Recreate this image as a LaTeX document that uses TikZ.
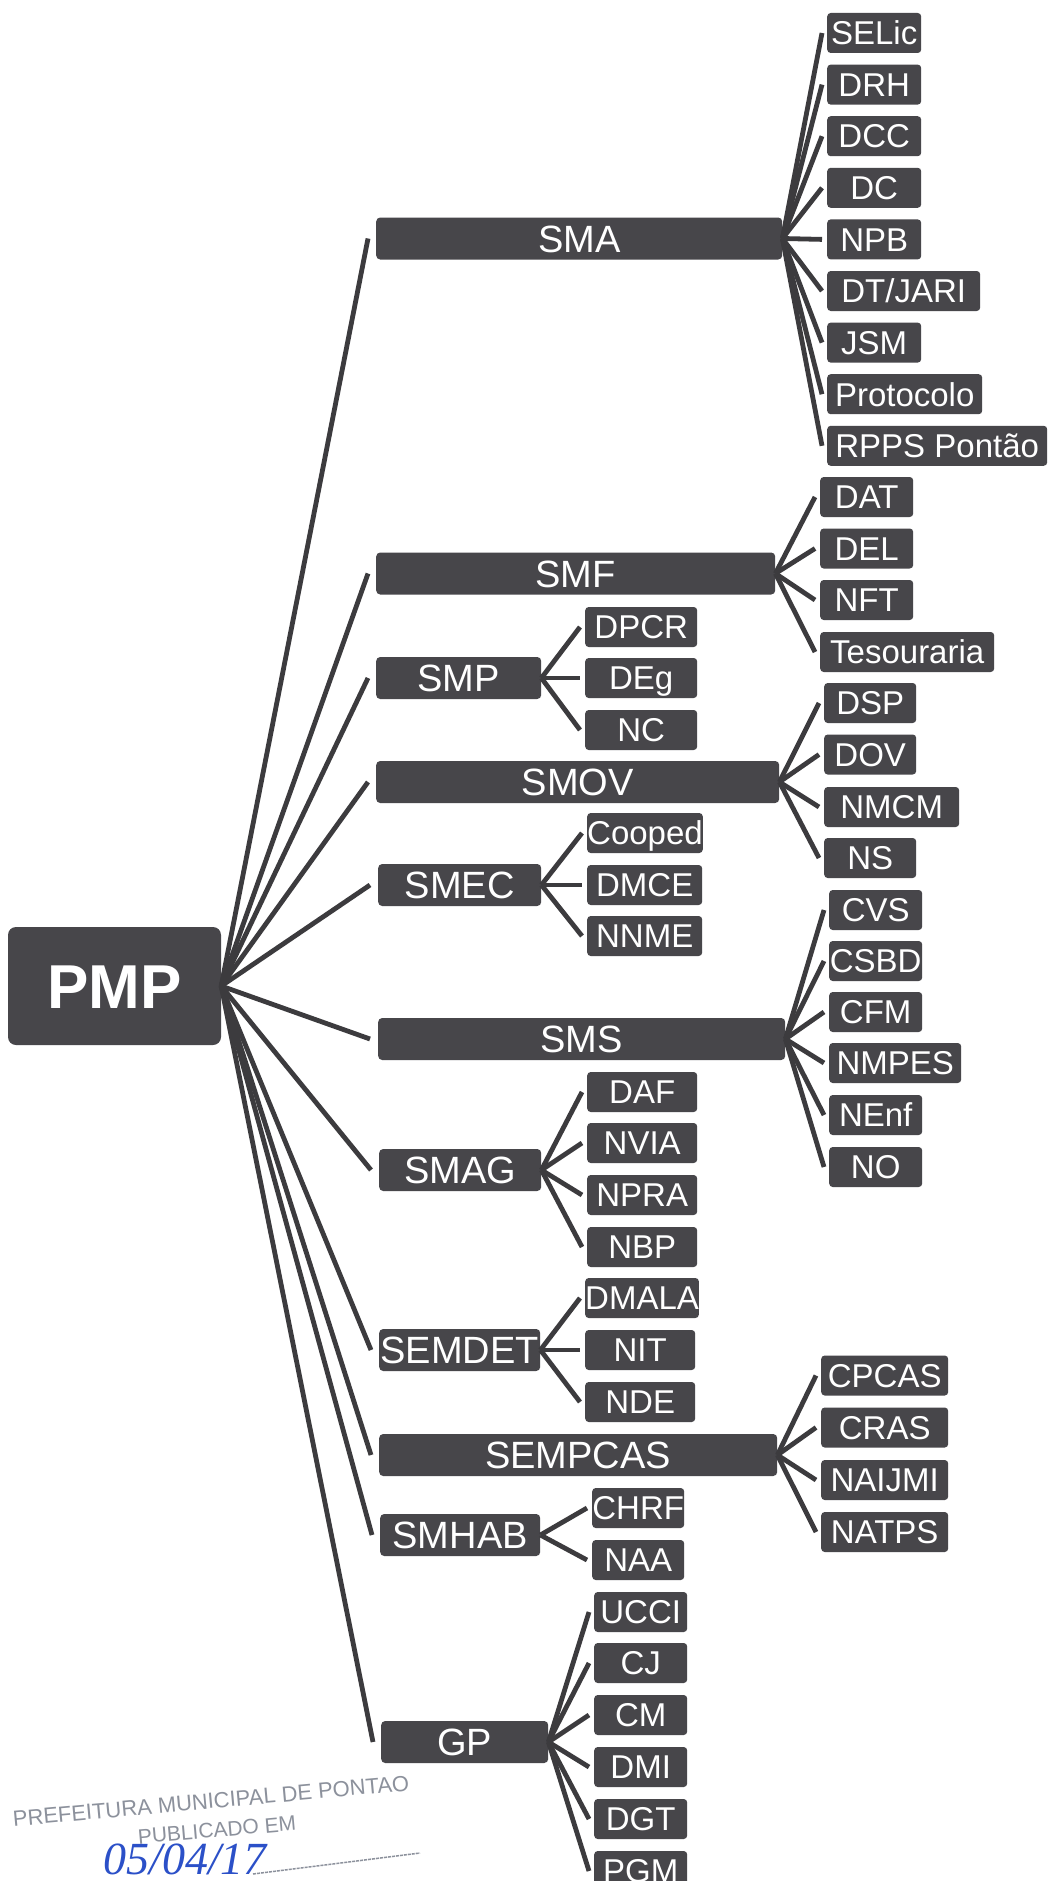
\documentclass[tikz,border=0pt]{standalone}
\usepackage{fontspec}
\setmainfont{Liberation Sans}
\newfontfamily\handfont{Liberation Serif}
\usetikzlibrary{calc}
\definecolor{boxc}{HTML}{47464A}
\definecolor{linec}{HTML}{3C3B3E}
\definecolor{stampc}{HTML}{8C919C}
\definecolor{inkc}{HTML}{2B50C8}
\tikzset{
  sec/.style={fill=boxc, rounded corners=4pt, text=white, font=\fontsize{38}{40}\selectfont,
    minimum height=42pt, inner sep=0pt, anchor=west, text height=27pt, text depth=0pt},
  sub/.style={fill=boxc, rounded corners=3.5pt, text=white, font=\fontsize{33}{36}\selectfont,
    minimum height=40pt, inner sep=0pt, anchor=west, text height=23.6pt, text depth=0pt},
  rootbox/.style={fill=boxc, rounded corners=8pt, text=white, font=\fontsize{62}{64}\selectfont\bfseries,
    minimum width=213pt, minimum height=118pt, inner sep=0pt, text height=44pt, text depth=0pt},
  conn/.style={draw=linec, line width=4.8pt},
  stamptext/.style={text=stampc, inner sep=0pt},
}
\begin{document}
\begin{tikzpicture}[x=1pt,y=-1pt]
\fill[white] (0,0) rectangle (1048,1881);
\useasboundingbox (0,0) rectangle (1048,1881);

% root
\node[rootbox] (PMP) at (114.5,986) {PMP};

% second level
\node[sec, minimum width=406pt] (SMA) at (376,238.5) {SMA};
\node[sec, minimum width=399pt] (SMF) at (376,573.5) {SMF};
\node[sec, minimum width=165pt] (SMP) at (376,678) {SMP};
\node[sec, minimum width=403pt] (SMOV) at (376,782) {SMOV};
\node[sec, minimum width=163pt] (SMEC) at (378,885) {SMEC};
\node[sec, minimum width=407pt] (SMS) at (378,1039) {SMS};
\node[sec, minimum width=162pt] (SMAG) at (379,1170) {SMAG};
\node[sec, minimum width=161pt] (SEMDET) at (379,1350) {SEMDET};
\node[sec, minimum width=398pt] (SEMPCAS) at (379,1455) {SEMPCAS};
\node[sec, minimum width=160pt] (SMHAB) at (380,1535) {SMHAB};
\node[sec, minimum width=167pt] (GP) at (381,1742) {GP};

% SMA children
\node[sub, minimum width=94pt] (SELic) at (827,33) {SELic};
\node[sub, minimum width=94pt] (DRH) at (827,84.6) {DRH};
\node[sub, minimum width=94pt] (DCC) at (827,136.2) {DCC};
\node[sub, minimum width=94pt] (DC) at (827,187.8) {DC};
\node[sub, minimum width=94pt] (NPB) at (827,239.4) {NPB};
\node[sub, minimum width=153pt] (DTJARI) at (827,291) {DT/JARI};
\node[sub, minimum width=94pt] (JSM) at (827,342.6) {JSM};
\node[sub, minimum width=155pt] (Protocolo) at (827,394.2) {Protocolo};
\node[sub, minimum width=220pt] (RPPS) at (827,445.8) {RPPS Pontão};

% SMF children
\node[sub, minimum width=93pt] (DAT) at (820,497) {DAT};
\node[sub, minimum width=93pt] (DEL) at (820,548.5) {DEL};
\node[sub, minimum width=93pt] (NFT) at (820,600) {NFT};
\node[sub, minimum width=174pt] (Tesouraria) at (820,652) {Tesouraria};

% SMP children
\node[sub, minimum width=112pt] (DPCR) at (585,627) {DPCR};
\node[sub, minimum width=112pt] (DEg) at (585,678) {DEg};
\node[sub, minimum width=112pt] (NC) at (585,730) {NC};

% SMOV children
\node[sub, minimum width=92pt] (DSP) at (824,703) {DSP};
\node[sub, minimum width=92pt] (DOV) at (824,754.5) {DOV};
\node[sub, minimum width=135pt] (NMCM) at (824,807) {NMCM};
\node[sub, minimum width=92pt] (NS) at (824,858) {NS};

% SMEC children
\node[sub, minimum width=115pt] (Cooped) at (587,833) {Cooped};
\node[sub, minimum width=115pt] (DMCE) at (587,885) {DMCE};
\node[sub, minimum width=115pt] (NNME) at (587,936) {NNME};

% SMS children
\node[sub, minimum width=93pt] (CVS) at (829,910) {CVS};
\node[sub, minimum width=93pt] (CSBD) at (829,961) {CSBD};
\node[sub, minimum width=93pt] (CFM) at (829,1012) {CFM};
\node[sub, minimum width=132pt] (NMPES) at (829,1063) {NMPES};
\node[sub, minimum width=93pt] (NEnf) at (829,1115) {NEnf};
\node[sub, minimum width=93pt] (NO) at (829,1167) {NO};

% SMAG children
\node[sub, minimum width=110pt] (DAF) at (587,1092) {DAF};
\node[sub, minimum width=110pt] (NVIA) at (587,1143) {NVIA};
\node[sub, minimum width=110pt] (NPRA) at (587,1195) {NPRA};
\node[sub, minimum width=110pt] (NBP) at (587,1247) {NBP};

% SEMDET children
\node[sub, minimum width=110pt] (DMALA) at (585,1298) {DMALA};
\node[sub, minimum width=110pt] (NIT) at (585,1350) {NIT};
\node[sub, minimum width=110pt] (NDE) at (585,1402) {NDE};

% SEMPCAS children
\node[sub, minimum width=127pt] (CPCAS) at (821,1375.5) {CPCAS};
\node[sub, minimum width=127pt] (CRAS) at (821,1427.5) {CRAS};
\node[sub, minimum width=127pt] (NAIJMI) at (821,1480) {NAIJMI};
\node[sub, minimum width=127pt] (NATPS) at (821,1532) {NATPS};

% SMHAB children
\node[sub, minimum width=92pt] (CHRF) at (592,1508) {CHRF};
\node[sub, minimum width=92pt] (NAA) at (592,1560) {NAA};

% GP children
\node[sub, minimum width=93pt] (UCCI) at (594,1612) {UCCI};
\node[sub, minimum width=93pt] (CJ) at (594,1663) {CJ};
\node[sub, minimum width=93pt] (CM) at (594,1715) {CM};
\node[sub, minimum width=93pt] (DMI) at (594,1767) {DMI};
\node[sub, minimum width=93pt] (DGT) at (594,1819) {DGT};
\node[sub, minimum width=93pt] (PGM) at (594,1871) {PGM};

% connectors root -> second level
\foreach \s in {SMA,SMF,SMP,SMOV,SMEC,SMS,SMAG,SEMDET,SEMPCAS,SMHAB,GP}
  \draw[conn] (PMP.east) -- ($(\s.west)+(-8,0)$);

% connectors second level -> children
\foreach \c in {SELic,DRH,DCC,DC,NPB,DTJARI,JSM,Protocolo,RPPS}
  \draw[conn] (SMA.east) -- ($(\c.west)+(-5,0)$);
\foreach \c in {DAT,DEL,NFT,Tesouraria}
  \draw[conn] (SMF.east) -- ($(\c.west)+(-5,0)$);
\foreach \c in {DPCR,DEg,NC}
  \draw[conn] (SMP.east) -- ($(\c.west)+(-5,0)$);
\foreach \c in {DSP,DOV,NMCM,NS}
  \draw[conn] (SMOV.east) -- ($(\c.west)+(-5,0)$);
\foreach \c in {Cooped,DMCE,NNME}
  \draw[conn] (SMEC.east) -- ($(\c.west)+(-5,0)$);
\foreach \c in {CVS,CSBD,CFM,NMPES,NEnf,NO}
  \draw[conn] (SMS.east) -- ($(\c.west)+(-5,0)$);
\foreach \c in {DAF,NVIA,NPRA,NBP}
  \draw[conn] (SMAG.east) -- ($(\c.west)+(-5,0)$);
\foreach \c in {DMALA,NIT,NDE}
  \draw[conn] (SEMDET.east) -- ($(\c.west)+(-5,0)$);
\foreach \c in {CPCAS,CRAS,NAIJMI,NATPS}
  \draw[conn] (SEMPCAS.east) -- ($(\c.west)+(-5,0)$);
\foreach \c in {CHRF,NAA}
  \draw[conn] (SMHAB.east) -- ($(\c.west)+(-5,0)$);
\foreach \c in {UCCI,CJ,CM,DMI,DGT,PGM}
  \draw[conn] (GP.east) -- ($(\c.west)+(-5,0)$);

% stamp
\node[stamptext, rotate=5.2, font=\fontsize{22}{24}\selectfont] (stampA) at (211,1801) {PREFEITURA MUNICIPAL DE PONTAO};
\node[stamptext, rotate=5, font=\fontsize{21}{23}\selectfont] (stampB) at (217,1830) {PUBLICADO EM};
\coordinate (ulA) at (253,1874);
\coordinate (ulB) at (420,1853);
\draw[stampc, line width=1.5pt, dash pattern=on 3pt off 1pt] (ulA) -- (ulB);
\node[text=inkc, inner sep=0pt, font=\fontsize{46}{48}\selectfont\handfont\itshape] (date) at (185,1859) {05/04/17};
\end{tikzpicture}
\end{document}
